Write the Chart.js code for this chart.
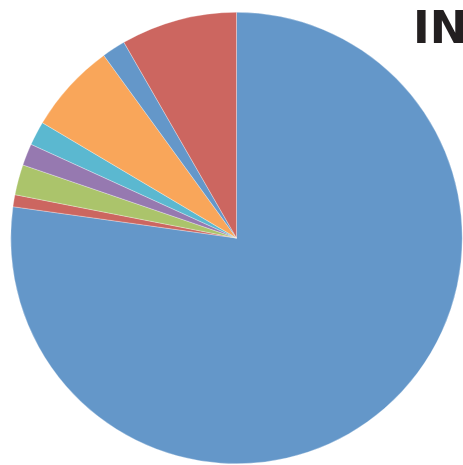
<!DOCTYPE html>
<html lang="en">
  <head>
    <meta charset="UTF-8">
    <title>IN</title>
    <style>
      html, body { margin: 0; padding: 0; background: #ffffff; overflow: hidden; }
      #chart { display: block; }
    </style>
  </head>
  <body>
    <canvas id="chart" width="463" height="465" style="width: 463px; height: 465px"></canvas>
    <script src="https://cdn.jsdelivr.net/npm/chart.js"></script>
    <script>
      /* Chart data, clockwise from 12 o'clock */
      const categories = ['A', 'B', 'C', 'D', 'E', 'F', 'G', 'H'];
      const values = [77.2, 0.86, 2.17, 1.56, 1.72, 6.47, 1.69, 8.31];
      const sliceColors = ['#6497c9', '#cc6660', '#abc46b', '#9679b0', '#5bb8d0', '#f9a65a', '#6497c9', '#cc6660'];
      const titleText = 'IN';

      /* Title drawn at top right, runs off the edge */
      const titlePlugin = {
        id: 'cornerTitle',
        afterDraw(chart) {
          const ctx = chart.ctx;
          ctx.save();
          ctx.font = 'bold 45px "DejaVu Sans"';
          ctx.fillStyle = '#231f20';
          ctx.textAlign = 'left';
          ctx.textBaseline = 'alphabetic';
          ctx.fillText(titleText, 413, 43);
          ctx.restore();
        }
      };

      const ctx = document.getElementById('chart');
      const chart = new Chart(ctx, {
        type: 'pie',
        data: {
          labels: categories,
          datasets: [{
            data: values,
            backgroundColor: sliceColors,
            borderColor: 'rgba(255,255,255,0.6)',
            borderWidth: 0.5
          }]
        },
        options: {
          responsive: false,
          animation: false,
          layout: {
            padding: { left: 10, top: 12, right: 0, bottom: 1 }
          },
          plugins: {
            legend: { display: false },
            tooltip: { enabled: false },
            title: { display: false }
          }
        },
        plugins: [titlePlugin]
      });
    </script>
  </body>
</html>
